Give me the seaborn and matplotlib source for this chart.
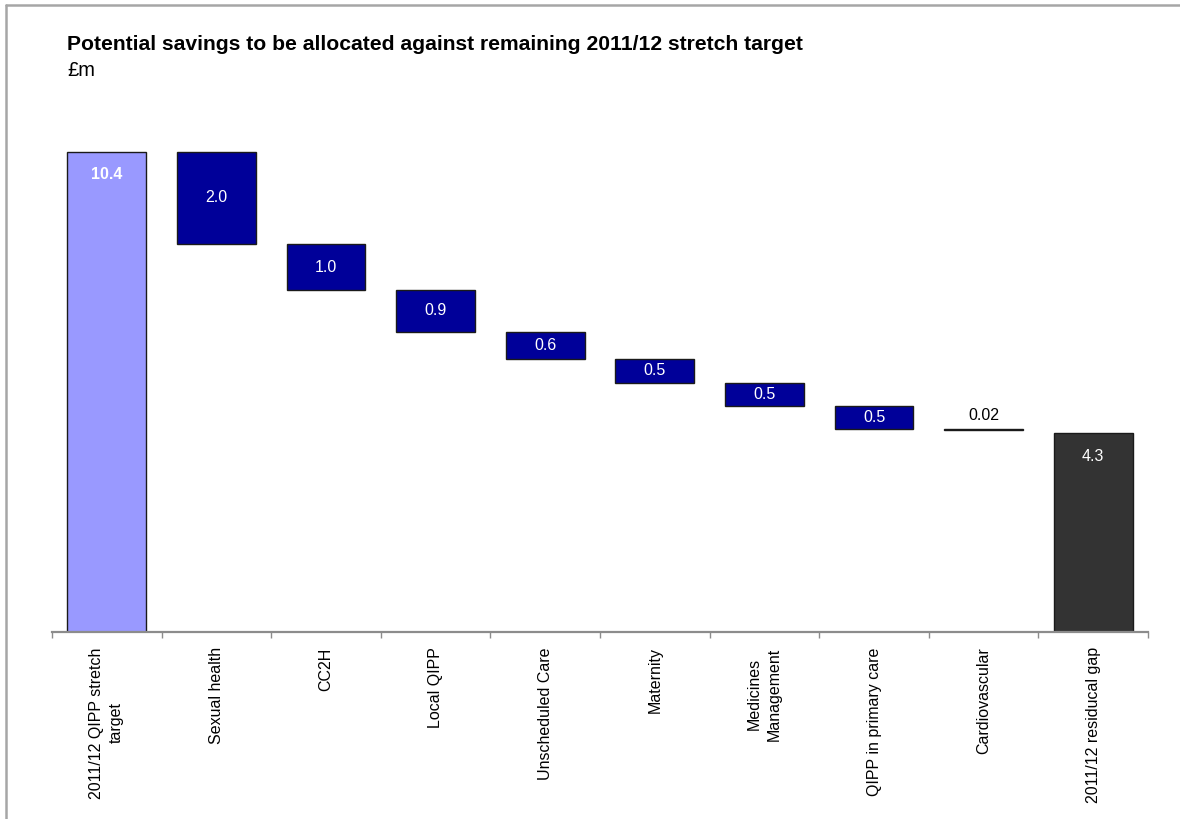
import numpy as np
import pandas as pd
import matplotlib
matplotlib.use("Agg")
import matplotlib.pyplot as plt
from matplotlib.lines import Line2D
from matplotlib.ticker import FixedLocator
import seaborn as sns

# Waterfall data (£m)
categories = [
    "2011/12 QIPP stretch\ntarget",
    "Sexual health",
    "CC2H",
    "Local QIPP",
    "Unscheduled Care",
    "Maternity",
    "Medicines\nManagement",
    "QIPP in primary care",
    "Cardiovascular",
    "2011/12 residucal gap",
]
target = 10.4
savings = [2.0, 1.0, 0.9, 0.6, 0.5, 0.5, 0.5, 0.02]
residual_gap = 4.3
value_labels = ["10.4", "2.0", "1.0", "0.9", "0.6", "0.5", "0.5", "0.5", "0.02", "4.3"]

# Bar heights and floating bottoms
heights = [target] + savings + [residual_gap]
running = target - np.cumsum(savings)
bottoms = [0.0] + list(running) + [0.0]

colors = ["#9999FF"] + ["#000099"] * len(savings) + ["#333333"]

sns.set_theme(style="white")
plt.rcParams["font.family"] = ["Liberation Sans", "DejaVu Sans"]
plt.rcParams["text.color"] = "black"
plt.rcParams["xtick.color"] = "black"

W, H, DPI = 1180, 819, 100
fig = plt.figure(figsize=(W / DPI, H / DPI), dpi=DPI)

ymax = 11.2
px_per_unit = 46.2
ax_left, ax_right, ax_bottom = 52, 1148, 632
ax_h = ymax * px_per_unit
ax = fig.add_axes([ax_left / W, 1 - ax_bottom / H, (ax_right - ax_left) / W, ax_h / H])

df = pd.DataFrame({"category": categories, "height": heights})
sns.barplot(data=df, x="category", y="height", order=categories, bottom=bottoms,
            color="#000099", width=0.72, errorbar=None, ax=ax,
            edgecolor="#1a1a1a", linewidth=1.0)
for patch, c in zip(ax.patches, colors):
    patch.set_facecolor(c)

ax.set_xlim(-0.5, len(categories) - 0.5)
ax.set_ylim(0, ymax)
ax.set_xlabel("")
ax.set_ylabel("")
ax.set_yticks([])

for side in ["top", "right", "left"]:
    ax.spines[side].set_visible(False)
ax.spines["bottom"].set_color("#8c8c8c")
ax.spines["bottom"].set_linewidth(1.6)

ax.set_xticks(range(len(categories)))
ax.set_xticklabels(categories, rotation=90, fontsize=11.5, color="black",
                   multialignment="center", linespacing=1.4)
ax.tick_params(axis="x", which="major", length=0, pad=11, labelcolor="black")
ax.xaxis.set_minor_locator(FixedLocator(np.arange(-0.5, len(categories), 1.0)))
ax.tick_params(axis="x", which="minor", length=4, width=1, color="#8c8c8c",
               direction="out", bottom=True)

# Value labels
n = len(categories)
for i, (h, b, txt) in enumerate(zip(heights, bottoms, value_labels)):
    if i == 0:
        ax.text(i, b + h - 0.5, txt, ha="center", va="center", color="white",
                fontsize=11.5, fontweight="bold")
    elif i == n - 1:
        ax.text(i, b + h - 0.5, txt, ha="center", va="center", color="white",
                fontsize=11.5)
    elif h < 0.1:
        ax.text(i, b + h + 0.12, txt, ha="center", va="bottom", color="black",
                fontsize=11.5)
    else:
        ax.text(i, b + h / 2, txt, ha="center", va="center", color="white",
                fontsize=11.5)

# Title and unit
fig.text(67 / W, 1 - 50 / H, "Potential savings to be allocated against remaining 2011/12 stretch target",
         fontsize=15.2, fontweight="bold", ha="left", va="baseline", color="black")
fig.text(67 / W, 1 - 76 / H, "£m", fontsize=14.5, ha="left", va="baseline", color="black")

# Frame lines along the top and left edges
fig.add_artist(Line2D([6 / W, 1.0], [1 - 4.5 / H, 1 - 4.5 / H], transform=fig.transFigure,
                      color="#a6a6a6", linewidth=1.8))
fig.add_artist(Line2D([6 / W, 6 / W], [0.0, 1 - 4.5 / H], transform=fig.transFigure,
                      color="#a6a6a6", linewidth=1.8))

fig.savefig("out.png", dpi=DPI, facecolor="white")
